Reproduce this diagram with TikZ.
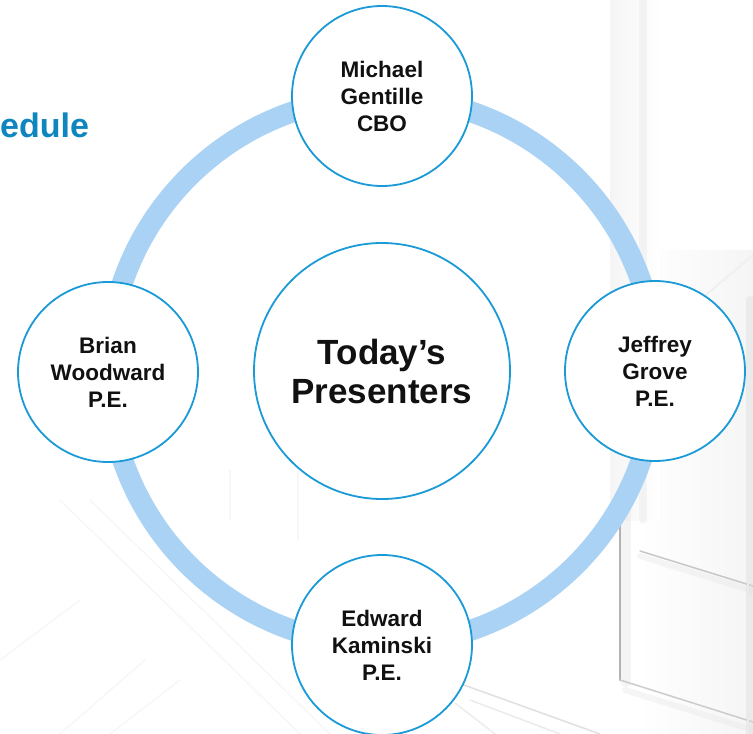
\documentclass[tikz,border=0pt]{standalone}
\usepackage{fontspec}
\setmainfont{Liberation Sans}
\definecolor{ringblue}{HTML}{AAD2F4}
\definecolor{edgeblue}{HTML}{1A9AD6}
\definecolor{headblue}{HTML}{0F86BF}
\definecolor{ink}{HTML}{111111}
\tikzset{
  person/.style={circle, draw=edgeblue, line width=1.8pt, fill=white,
    minimum size=180pt, inner sep=0pt, align=center, text=ink,
    font=\fontsize{22.5}{27}\selectfont\bfseries},
  hub/.style={person, minimum size=256pt,
    font=\fontsize{35}{39}\selectfont\bfseries},
  sketch/.style={line cap=round, line width=#1},
  sketch/.default=1.5pt,
  soft/.style={line cap=round, line width=#1, opacity=0.35}
}
\begin{document}
\begin{tikzpicture}[x=1pt, y=-1pt]
  \useasboundingbox (0,0) rectangle (753,734);
  \clip (0,0) rectangle (753,734);
  \fill[white] (0,0) rectangle (753,734);

  % faint window sketch in the background
  \shade[left color=white, right color=black!4] (640,250) rectangle (753,734);
  \shade[left color=black!4, right color=white] (610,0) rectangle (660,520);
  \draw[black!10, soft=8pt] (643,0) -- (643,520);
  \draw[black!5, sketch=2pt] (643,0) -- (643,520);
  \draw[black!12, soft=10pt] (626,505) -- (626,682);
  \draw[black!30, sketch=2.5pt] (620,505) -- (620,680);
  \draw[black!20, sketch=1.5pt] (620,680) -- (753,722);
  \draw[black!10, soft=6pt] (625,690) -- (753,730);
  \draw[black!22, sketch=1.5pt] (640,551) -- (753,586);
  \draw[black!10, soft=6pt] (640,556) -- (753,591);
  \draw[black!16, soft=8pt] (750,300) -- (750,734);
  \draw[black!8, sketch=2pt] (748,300) -- (748,734);
  \draw[black!6, sketch=2pt] (700,300) -- (753,255);
  \draw[black!12, sketch=1.5pt] (450,680) -- (600,734);
  \draw[black!8, sketch=1.5pt] (470,700) -- (560,734);
  \draw[black!7, sketch=1.5pt] (455,703) -- (495,734);
  \draw[black!3, sketch=1.5pt] (60,500) -- (300,734);
  \draw[black!3, sketch=1.5pt] (90,500) -- (330,734);
  \draw[black!3, sketch=1.5pt] (0,660) -- (80,600);
  \draw[black!3, sketch=1.5pt] (60,734) -- (145,660);
  \draw[black!3, sketch=1.5pt] (110,734) -- (180,680);
  \draw[black!3, sketch=1.5pt] (230,470) -- (230,520);
  \draw[black!3, sketch=1.5pt] (298,470) -- (298,540);

  % heading, cut at the left edge
  \node[anchor=base west, inner sep=0pt, text=headblue,
    font=\fontsize{34}{40}\selectfont\bfseries] (head) at (0,137) {edule};

  % ring joining the presenters
  \coordinate (c) at (382,371);
  \draw[ringblue, line width=21pt] (c) circle[radius=274pt];

  % presenters
  \node[hub] (hub) at (c) {Today’s\\Presenters};
  \node[person] (top) at (382,96) {Michael\\Gentille\\CBO};
  \node[person] (right) at (655,371) {Jeffrey\\Grove\\P.E.};
  \node[person] (bottom) at (382,645) {Edward\\Kaminski\\P.E.};
  \node[person] (left) at (108,372) {Brian\\Woodward\\P.E.};
\end{tikzpicture}
\end{document}
